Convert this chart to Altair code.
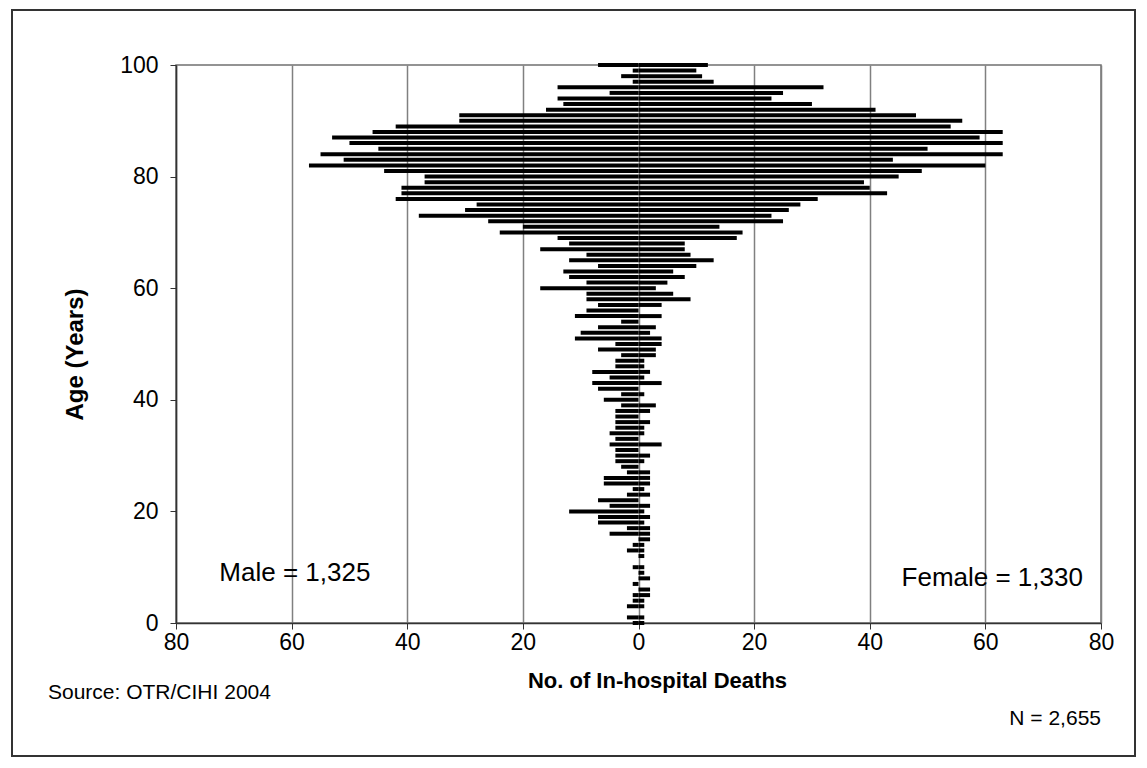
import altair as alt
import pandas as pd

# ---- data (ages 100 down to 0) ----
ages = list(range(100, -1, -1))
male = [7, 1, 3, 1, 14, 5, 14, 13, 16, 31, 31,
        42, 46, 53, 50, 45, 55, 51, 57, 44, 37, 37, 41,
        41, 42, 28, 30, 38, 26, 20, 24, 14, 12, 17, 9,
        12, 7, 13, 12, 9, 17, 9, 9, 7, 9, 11, 3, 7, 10, 11,
        4, 7, 3, 4, 4, 8, 5, 8, 7, 3, 6, 3, 4, 4, 4, 4,
        5, 4, 5, 4, 4, 4, 3, 2, 6, 6, 1, 2, 7, 5, 12, 7,
        7, 2, 5, 0, 1, 2, 0, 0, 1, 0, 0, 1, 0, 1, 1, 2, 0, 2, 1]
female = [12, 10, 11, 13, 32, 25, 23, 30, 41, 48, 56,
          54, 63, 59, 63, 50, 63, 44, 60, 49, 45, 39, 40,
          43, 31, 28, 26, 23, 25, 14, 18, 17, 8, 8, 9,
          13, 10, 6, 8, 5, 3, 6, 9, 4, 0, 4, 0, 3, 2, 4,
          4, 3, 3, 1, 1, 2, 1, 4, 0, 1, 0, 3, 2, 0, 2, 1,
          1, 0, 4, 0, 2, 1, 0, 2, 2, 2, 1, 2, 0, 2, 1, 2,
          1, 2, 2, 2, 1, 1, 1, 0, 1, 1, 2, 0, 2, 2, 1, 1, 0, 1, 1]
x_ticks = [-80, -60, -40, -20, 0, 20, 40, 60, 80]
y_ticks = [0, 20, 40, 60, 80, 100]
labels = ["Male = 1,325", "Female = 1,330"]
label_x = [-72.5, 45.5]
label_y = [9.0, 8.0]

rows = []
for a, m, f in zip(ages, male, female):
    rows.append({"age": a, "sex": "Male", "deaths": -m, "base": 0})
    rows.append({"age": a, "sex": "Female", "deaths": f, "base": 0})
df = pd.DataFrame(rows)

FONT = "Liberation Sans"
LEFT, TOP, W, H = 176, 65, 925, 558

x_scale = alt.Scale(domain=[-80, 80], nice=False, zero=False)
y_scale = alt.Scale(domain=[0, 100], nice=False, zero=False)

bars = alt.Chart(df).mark_rule(strokeWidth=4, color="black", strokeCap="butt").encode(
    x=alt.X("deaths:Q", scale=x_scale,
            axis=alt.Axis(values=x_ticks, labelExpr="abs(datum.value)",
                          labelFlush=False, labelOverlap=False,
                          title="No. of In-hospital Deaths",
                          titleX=481, titleY=57, titleBaseline="middle",
                          titleAlign="center", titleFontSize=22)),
    x2="base:Q",
    y=alt.Y("age:Q", scale=y_scale,
            axis=alt.Axis(values=y_ticks, title="Age (Years)", grid=False,
                          labelFlush=False,
                          titleX=-101, titleY=289, titleAlign="center",
                          titleBaseline="middle", titleFontSize=24)),
)

ann = pd.DataFrame({"x": label_x, "y": label_y, "label": labels})
text = alt.Chart(ann).mark_text(align="left", baseline="middle", font=FONT,
                                fontSize=26, color="black").encode(
    x=alt.X("x:Q", scale=x_scale), y=alt.Y("age_pos:Q", scale=y_scale), text="label:N"
).transform_calculate(age_pos="datum.y")

one = pd.DataFrame({"s": ["Source: OTR/CIHI 2004"], "n": ["N = 2,655"]})
source = alt.Chart(one).mark_text(align="left", baseline="middle", font=FONT,
                                  fontSize=21, color="black").encode(
    x=alt.value(48 - LEFT), y=alt.value(693 - TOP), text="s:N")
ntext = alt.Chart(one).mark_text(align="right", baseline="middle", font=FONT,
                                 fontSize=21, color="black").encode(
    x=alt.value(1101 - LEFT), y=alt.value(719 - TOP), text="n:N")
border = alt.Chart(one).mark_rect(fill="transparent", stroke="#333333", strokeWidth=2).encode(
    x=alt.value(12 - LEFT), x2=alt.value(1135 - LEFT),
    y=alt.value(10 - TOP), y2=alt.value(756 - TOP))

chart = alt.layer(bars, text, source, ntext, border).properties(
    width=W, height=H,
    autosize=alt.AutoSizeParams(type="none"),
    padding={"left": LEFT, "top": TOP, "right": 1147 - LEFT - W, "bottom": 768 - TOP - H},
    background="white",
).configure_view(
    stroke="#707070", strokeWidth=1.5
).configure_axis(
    labelFont=FONT, labelFontSize=23, labelColor="black",
    titleFont=FONT, titleFontWeight="bold", titleColor="black",
    domainColor="#333333", domainWidth=1.5, tickColor="#333333", tickSize=6,
    gridColor="#808080", gridWidth=1.5,
).configure_axisX(labelPadding=2, grid=True).configure_axisY(labelPadding=12)

chart.save("out.html", embed_options={"renderer": "svg", "actions": False})
